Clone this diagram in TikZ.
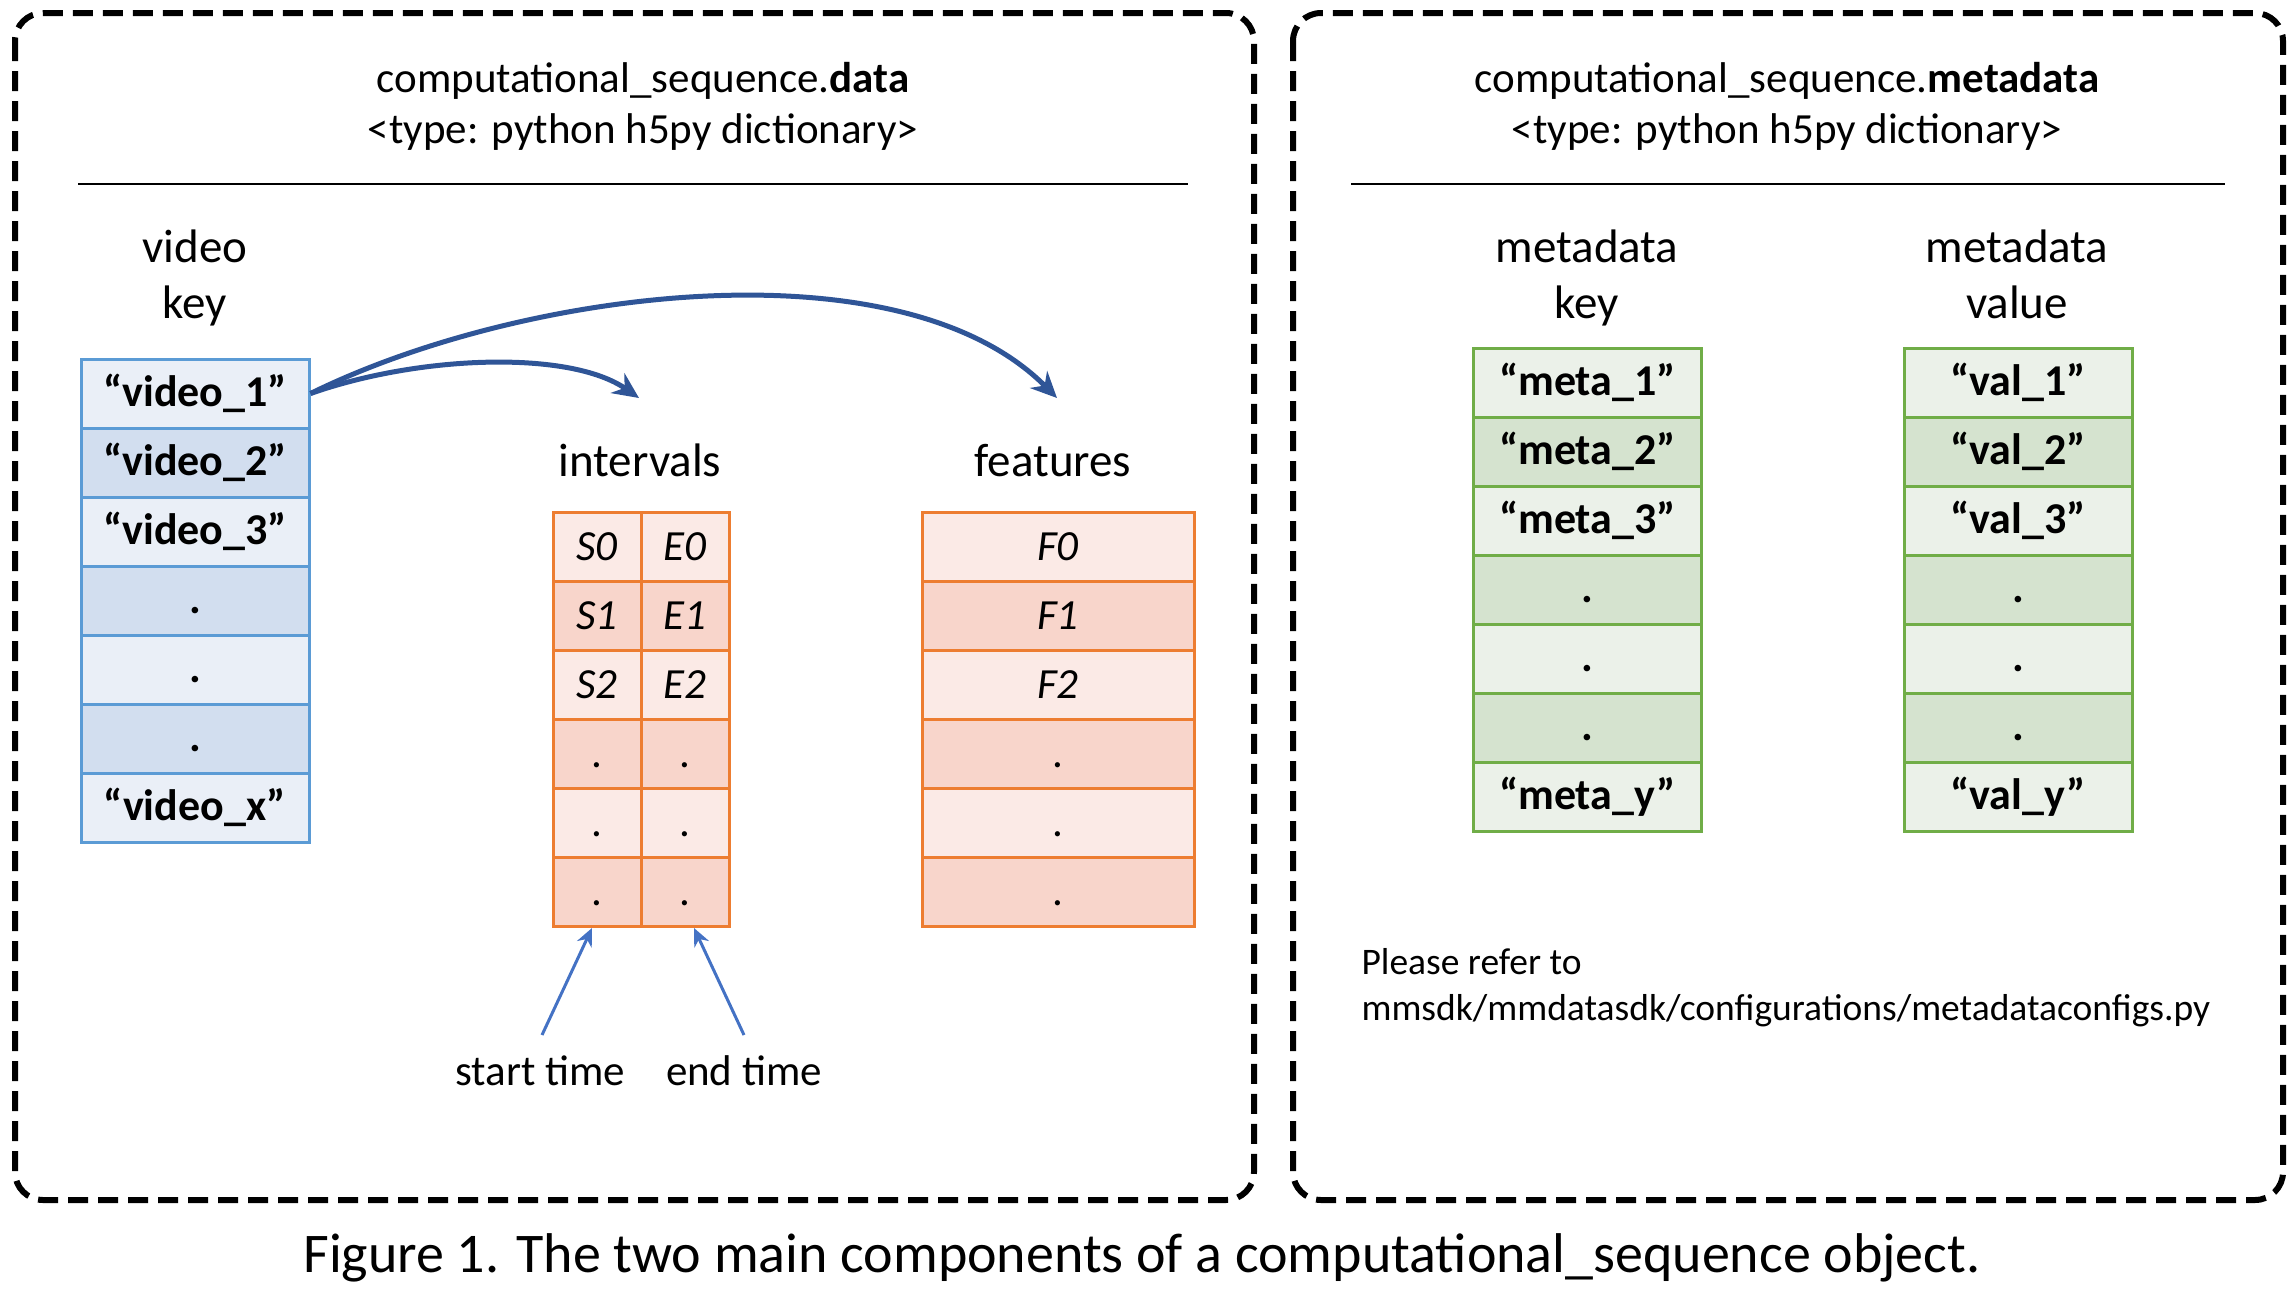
\documentclass[tikz,border=0pt]{standalone}
\usepackage{fontspec}
\setmainfont{Carlito}
\usetikzlibrary{arrows.meta, positioning}
\usepackage{xcolor}
\definecolor{vblue}{HTML}{5B9BD5}
\definecolor{vlight}{HTML}{EAEFF7}
\definecolor{vdark}{HTML}{D2DEEF}
\definecolor{iorange}{HTML}{ED7D31}
\definecolor{ilight}{HTML}{FBEAE6}
\definecolor{idark}{HTML}{F8D5CB}
\definecolor{mgreen}{HTML}{70AD47}
\definecolor{mlight}{HTML}{EBF1E9}
\definecolor{mdark}{HTML}{D5E3CF}
\definecolor{arrowblue}{HTML}{2F5597}
\definecolor{timeblue}{HTML}{4472C4}

\begin{document}
\begin{tikzpicture}[x=1pt, y=-1pt, font=\fontsize{43}{52}\selectfont]
    \tikzstyle{panel}=[line width=6pt, dash pattern=on 20pt off 10pt, rounded corners=28pt]
    \tikzstyle{rule}=[line width=2pt]
    \tikzstyle{cell}=[draw, line width=3pt, inner sep=0pt, minimum height=69pt, text height=27pt, text depth=1pt]
    \tikzstyle{vcell}=[cell, draw=vblue, minimum width=228pt, font=\fontsize{44}{52}\selectfont\bfseries]
    \tikzstyle{icell}=[cell, draw=iorange, minimum width=88pt, font=\fontsize{43}{52}\selectfont\itshape]
    \tikzstyle{fcell}=[cell, draw=iorange, minimum width=272pt, font=\fontsize{43}{52}\selectfont\itshape]
    \tikzstyle{mcell}=[cell, draw=mgreen, minimum width=228pt, font=\fontsize{44}{52}\selectfont\bfseries]
    \tikzstyle{head}=[anchor=base]
    \tikzstyle{colhead}=[anchor=base, font=\fontsize{47}{56}\selectfont]
    \tikzstyle{key arrow}=[->, >={Stealth[length=26pt, width=24pt]}, line width=5pt, draw=arrowblue]
    \tikzstyle{time arrow}=[->, >={Stealth[length=18pt, width=16pt]}, line width=3pt, draw=timeblue]

    \useasboundingbox (0,0) rectangle (2296,1304);

    % the two panels
    \draw[panel] (15,13) rectangle (1254,1200);
    \draw[panel] (1293,13) rectangle (2283,1200);

    \node[head] (data-title) at (643,92) {computational\_sequence.\textbf{data}};
    \node[head] (data-type) at (643,143) {<type: python h5py dictionary>};
    \draw[rule] (78,184) -- (1188,184);

    \node[head] (meta-title) at (1787,92) {computational\_sequence.\textbf{metadata}};
    \node[head] (meta-type) at (1787,143) {<type: python h5py dictionary>};
    \draw[rule] (1351,184) -- (2225,184);

    % video keys
    \node[colhead] (vk-1) at (195,262) {video};
    \node[colhead] (vk-2) at (195,318) {key};
    \node[vcell, fill=vlight] (V-1) at (195,393.5) {“video\_1”};
    \node[vcell, fill=vdark]  (V-2) at (195,462.5) {“video\_2”};
    \node[vcell, fill=vlight] (V-3) at (195,531.5) {“video\_3”};
    \node[vcell, fill=vdark]  (V-4) at (195,600.5) {.};
    \node[vcell, fill=vlight] (V-5) at (195,669.5) {.};
    \node[vcell, fill=vdark]  (V-6) at (195,738.5) {.};
    \node[vcell, fill=vlight] (V-7) at (195,807.5) {“video\_x”};

    % intervals
    \node[colhead] (int) at (640,476) {intervals};
    \node[icell, fill=ilight] (S-1) at (597,547) {S0};
    \node[icell, fill=idark]  (S-2) at (597,616) {S1};
    \node[icell, fill=ilight] (S-3) at (597,685) {S2};
    \node[icell, fill=idark]  (S-4) at (597,754) {\upshape .};
    \node[icell, fill=ilight] (S-5) at (597,823) {\upshape .};
    \node[icell, fill=idark]  (S-6) at (597,892) {\upshape .};
    \node[icell, fill=ilight] (E-1) at (685,547) {E0};
    \node[icell, fill=idark]  (E-2) at (685,616) {E1};
    \node[icell, fill=ilight] (E-3) at (685,685) {E2};
    \node[icell, fill=idark]  (E-4) at (685,754) {\upshape .};
    \node[icell, fill=ilight] (E-5) at (685,823) {\upshape .};
    \node[icell, fill=idark]  (E-6) at (685,892) {\upshape .};

    % features
    \node[colhead] (feat) at (1053,476) {features};
    \node[fcell, fill=ilight] (F-1) at (1058,547) {F0};
    \node[fcell, fill=idark]  (F-2) at (1058,616) {F1};
    \node[fcell, fill=ilight] (F-3) at (1058,685) {F2};
    \node[fcell, fill=idark]  (F-4) at (1058,754) {\upshape .};
    \node[fcell, fill=ilight] (F-5) at (1058,823) {\upshape .};
    \node[fcell, fill=idark]  (F-6) at (1058,892) {\upshape .};

    \coordinate (int-in) at (639,398);
    \coordinate (feat-in) at (1057,398);
    \draw[key arrow] (V-1.east) .. controls (520,290) and (900,240) .. (feat-in);
    \draw[key arrow] (V-1.east) .. controls (420,355) and (570,350) .. (int-in);

    \node[head] (start) at (540,1085) {start time};
    \node[head] (end) at (744,1085) {end time};
    \coordinate (start-tail) at (542,1035);
    \coordinate (end-tail) at (744,1035);
    \draw[time arrow] (start-tail) -- ([xshift=-5pt]S-6.south);
    \draw[time arrow] (end-tail) -- ([xshift=9pt]E-6.south);

    % metadata keys and values
    \node[colhead] (mk-1) at (1587,262) {metadata};
    \node[colhead] (mk-2) at (1587,318) {key};
    \node[colhead] (mv-1) at (2017,262) {metadata};
    \node[colhead] (mv-2) at (2017,318) {value};

    \node[mcell, fill=mlight] (K-1) at (1587.5,382.5) {“meta\_1”};
    \node[mcell, fill=mdark]  (K-2) at (1587.5,451.5) {“meta\_2”};
    \node[mcell, fill=mlight] (K-3) at (1587.5,520.5) {“meta\_3”};
    \node[mcell, fill=mdark]  (K-4) at (1587.5,589.5) {.};
    \node[mcell, fill=mlight] (K-5) at (1587.5,658.5) {.};
    \node[mcell, fill=mdark]  (K-6) at (1587.5,727.5) {.};
    \node[mcell, fill=mlight] (K-7) at (1587.5,796.5) {“meta\_y”};

    \node[mcell, fill=mlight] (M-1) at (2018,382.5) {“val\_1”};
    \node[mcell, fill=mdark]  (M-2) at (2018,451.5) {“val\_2”};
    \node[mcell, fill=mlight] (M-3) at (2018,520.5) {“val\_3”};
    \node[mcell, fill=mdark]  (M-4) at (2018,589.5) {.};
    \node[mcell, fill=mlight] (M-5) at (2018,658.5) {.};
    \node[mcell, fill=mdark]  (M-6) at (2018,727.5) {.};
    \node[mcell, fill=mlight] (M-7) at (2018,796.5) {“val\_y”};

    \node[anchor=base west, font=\fontsize{37.5}{46}\selectfont] (refer-1) at (1358,974) {Please refer to};
    \node[anchor=base west, font=\fontsize{37.5}{46}\selectfont] (refer-2) at (1358,1020) {mmsdk/mmdatasdk/configurations/metadataconfigs.py};

    \node[head, font=\fontsize{56}{66}\selectfont] (caption) at (1142,1272) {Figure 1. The two main components of a computational\_sequence object.};
\end{tikzpicture}
\end{document}
